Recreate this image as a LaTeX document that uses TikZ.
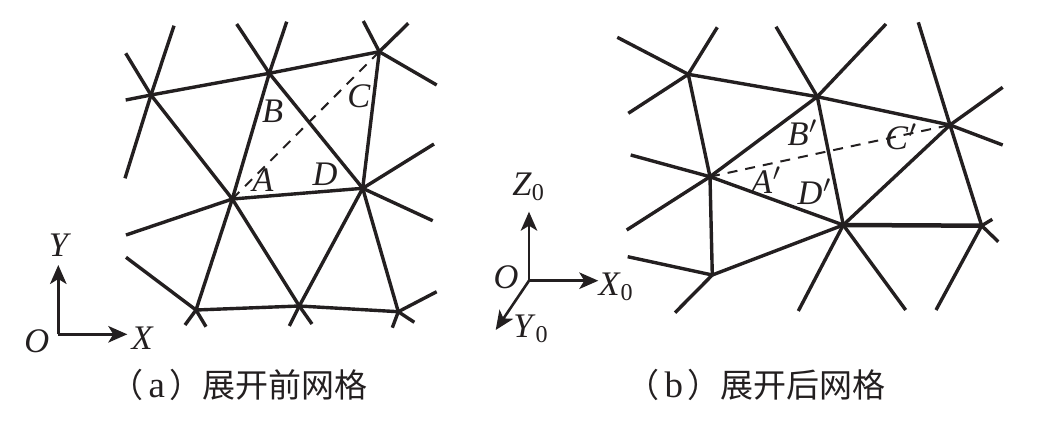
\documentclass[tikz,border=0pt]{standalone}
\usepackage{fontspec}
\setmainfont{Liberation Serif}
\newfontfamily\cjk{Noto Sans CJK SC}
\usetikzlibrary{arrows.meta}
\definecolor{ink}{HTML}{231F20}
\tikzset{
  mesh/.style={draw=ink,line width=0.034cm},
  hidden/.style={draw=ink,line width=0.02cm,dash pattern=on 0.10cm off 0.08cm},
  axis/.style={draw=ink,line width=0.026cm,-{Stealth[length=0.19cm,width=0.165cm,inset=0.05cm]}},
  lbl/.style={inner sep=0pt,text=ink,font=\fontsize{9.8pt}{11pt}\selectfont},
  captext/.style={inner sep=0pt,anchor=east,text=ink,font=\fontsize{9.4pt}{11pt}\selectfont}
}
\newcommand{\capletter}[1]{\hspace{0.05cm}{\fontsize{10.5pt}{11pt}\selectfont #1}\hspace{0.04cm}}
\begin{document}
\begin{tikzpicture}
\useasboundingbox (0,0) rectangle (10.5,-4.27);

% mesh before unfolding
\coordinate (A) at (2.323,-1.99);
\coordinate (B) at (2.693,-0.733);
\coordinate (C) at (3.793,-0.517);
\coordinate (D) at (3.627,-1.883);
\coordinate (E) at (1.51,-0.95);
\coordinate (F) at (1.96,-3.10);
\coordinate (G) at (2.993,-3.06);
\coordinate (H) at (3.983,-3.117);

\coordinate (e1) at (1.74,-0.257);
\coordinate (e2) at (1.257,-0.533);
\coordinate (e3) at (1.257,-1.00);
\coordinate (e4) at (1.25,-1.783);
\coordinate (b1) at (2.367,-0.24);
\coordinate (b2) at (2.867,-0.217);
\coordinate (c1) at (3.633,-0.21);
\coordinate (c2) at (4.083,-0.233);
\coordinate (c3) at (4.367,-0.85);
\coordinate (d1) at (4.34,-1.44);
\coordinate (d2) at (4.327,-2.207);
\coordinate (a1) at (1.26,-2.35);
\coordinate (f1) at (1.26,-2.573);
\coordinate (f2) at (1.85,-3.25);
\coordinate (f3) at (2.06,-3.267);
\coordinate (g1) at (2.893,-3.26);
\coordinate (g2) at (3.12,-3.24);
\coordinate (h1) at (4.367,-2.917);
\coordinate (h2) at (4.143,-3.223);
\coordinate (h3) at (3.923,-3.277);

\draw[mesh] (E) -- (B);
\draw[mesh] (B) -- (C);
\draw[mesh] (E) -- (A);
\draw[mesh] (B) -- (A);
\draw[mesh] (B) -- (D);
\draw[mesh] (C) -- (D);
\draw[mesh] (A) -- (D);
\draw[mesh] (A) -- (F);
\draw[mesh] (A) -- (G);
\draw[mesh] (D) -- (G);
\draw[mesh] (D) -- (H);
\draw[mesh] (F) -- (G);
\draw[mesh] (G) -- (H);
\draw[hidden] (A) -- (C);

\draw[mesh] (E) -- (e1);
\draw[mesh] (E) -- (e2);
\draw[mesh] (E) -- (e3);
\draw[mesh] (E) -- (e4);
\draw[mesh] (B) -- (b1);
\draw[mesh] (B) -- (b2);
\draw[mesh] (C) -- (c1);
\draw[mesh] (C) -- (c2);
\draw[mesh] (C) -- (c3);
\draw[mesh] (D) -- (d1);
\draw[mesh] (D) -- (d2);
\draw[mesh] (A) -- (a1);
\draw[mesh] (F) -- (f1);
\draw[mesh] (F) -- (f2);
\draw[mesh] (F) -- (f3);
\draw[mesh] (G) -- (g1);
\draw[mesh] (G) -- (g2);
\draw[mesh] (H) -- (h1);
\draw[mesh] (H) -- (h2);
\draw[mesh] (H) -- (h3);

\node[lbl] (la) at (2.63,-1.80) {\textit{A}};
\node[lbl] (lb) at (2.727,-1.117) {\textit{B}};
\node[lbl] (lc) at (3.59,-0.96) {\textit{C}};
\node[lbl] (ld) at (3.25,-1.74) {\textit{D}};

% mesh after unfolding
\coordinate (Aa) at (7.10,-1.767);
\coordinate (Bb) at (8.173,-0.967);
\coordinate (Cc) at (9.50,-1.25);
\coordinate (Dd) at (8.433,-2.25);
\coordinate (P) at (6.883,-0.743);
\coordinate (Q) at (7.123,-2.75);
\coordinate (R) at (9.817,-2.257);

\coordinate (p1) at (6.173,-0.373);
\coordinate (p2) at (7.173,-0.273);
\coordinate (p3) at (6.283,-1.133);
\coordinate (bb1) at (7.76,-0.267);
\coordinate (bb2) at (8.86,-0.24);
\coordinate (cc1) at (9.183,-0.223);
\coordinate (cc2) at (10.027,-0.873);
\coordinate (cc3) at (10.027,-1.45);
\coordinate (aa1) at (6.307,-1.55);
\coordinate (aa2) at (6.267,-2.30);
\coordinate (q1) at (6.277,-2.567);
\coordinate (q2) at (6.75,-3.127);
\coordinate (dd1) at (7.983,-3.11);
\coordinate (dd2) at (9.057,-3.10);
\coordinate (r1) at (9.923,-2.193);
\coordinate (r2) at (9.983,-2.417);
\coordinate (r3) at (9.36,-3.10);

\draw[mesh] (P) -- (Bb);
\draw[mesh] (Bb) -- (Cc);
\draw[mesh] (P) -- (Aa);
\draw[mesh] (Aa) -- (Bb);
\draw[mesh] (Bb) -- (Dd);
\draw[mesh] (Cc) -- (Dd);
\draw[mesh] (Cc) -- (R);
\draw[mesh] (Aa) -- (Dd);
\draw[mesh] (Aa) -- (Q);
\draw[mesh] (Q) -- (Dd);
\draw[mesh,line width=0.045cm] (Dd) -- (R);
\draw[hidden] (Aa) -- (Cc);

\draw[mesh] (P) -- (p1);
\draw[mesh] (P) -- (p2);
\draw[mesh] (P) -- (p3);
\draw[mesh] (Bb) -- (bb1);
\draw[mesh] (Bb) -- (bb2);
\draw[mesh] (Cc) -- (cc1);
\draw[mesh] (Cc) -- (cc2);
\draw[mesh] (Cc) -- (cc3);
\draw[mesh] (Aa) -- (aa1);
\draw[mesh] (Aa) -- (aa2);
\draw[mesh] (Q) -- (q1);
\draw[mesh] (Q) -- (q2);
\draw[mesh] (Dd) -- (dd1);
\draw[mesh] (Dd) -- (dd2);
\draw[mesh] (R) -- (r1);
\draw[mesh] (R) -- (r2);
\draw[mesh] (R) -- (r3);

\node[lbl] (laa) at (7.667,-1.80) {\textit{A}$'$};
\node[lbl] (lbb) at (8.03,-1.327) {\textit{B}$'$};
\node[lbl] (lcc) at (9.017,-1.367) {\textit{C}$'$};
\node[lbl] (ldd) at (8.15,-1.917) {\textit{D}$'$};

% axes
\coordinate (o1) at (0.583,-3.343);
\coordinate (y1) at (0.583,-2.65);
\coordinate (x1) at (1.273,-3.343);
\draw[axis] (o1) -- (y1);
\draw[axis] (o1) -- (x1);
\node[lbl] (ly1) at (0.60,-2.45) {\textit{Y}};
\node[lbl] (lo1) at (0.367,-3.417) {\textit{O}};
\node[lbl] (lx1) at (1.427,-3.383) {\textit{X}};

\coordinate (o2) at (5.29,-2.807);
\coordinate (z2) at (5.29,-2.117);
\coordinate (x2) at (5.983,-2.807);
\coordinate (y2) at (4.957,-3.30);
\draw[axis] (o2) -- (z2);
\draw[axis] (o2) -- (x2);
\draw[axis] (o2) -- (y2);
\node[lbl] (lz2) at (5.29,-1.867) {\textit{Z}\textsubscript{0}};
\node[lbl] (lo2) at (5.06,-2.77) {\textit{O}};
\node[lbl] (lx2) at (6.165,-2.867) {\textit{X}\textsubscript{0}};
\node[lbl] (ly2) at (5.315,-3.29) {\textit{Y}\textsubscript{0}};

% captions
\node[captext] (capa) at (3.68,-3.85) {{\cjk （}\capletter{a}{\cjk ）展开前网格}};
\node[captext] (capb) at (8.86,-3.85) {{\cjk （}\capletter{b}{\cjk ）展开后网格}};
\end{tikzpicture}
\end{document}
